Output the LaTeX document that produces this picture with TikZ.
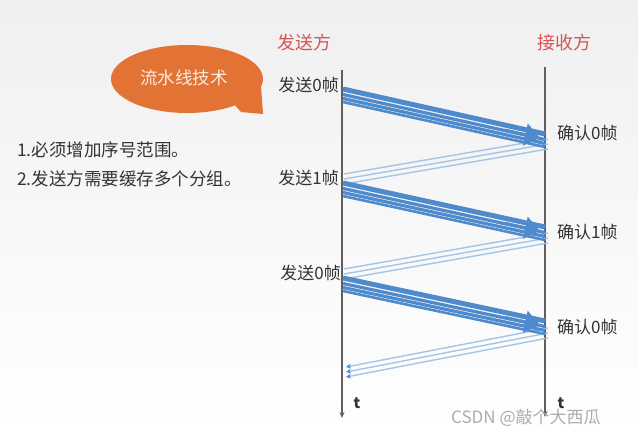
\documentclass[tikz,border=0pt]{standalone}
\usepackage{fontspec}
\setmainfont{Noto Sans CJK SC}
\usetikzlibrary{arrows.meta,calc}
\definecolor{fwdblue}{RGB}{78,138,204}
\definecolor{ackblue}{RGB}{165,196,230}
\definecolor{titlered}{RGB}{214,84,84}
\definecolor{bubble}{RGB}{226,115,52}
\definecolor{bubbletext}{RGB}{252,234,218}
\definecolor{axisgray}{RGB}{95,95,95}
\begin{document}
\begin{tikzpicture}[x=1pt,y=-1pt,
  lbl/.style={font=\fontsize{17}{19}\selectfont, text=black!80, inner sep=0pt},
  lst/.style={font=\fontsize{17.5}{19}\selectfont, text=black!80, inner sep=0pt, anchor=west},
  ttl/.style={font=\fontsize{18}{19}\selectfont, text=titlered, inner sep=0pt},
  axis/.style={draw=axisgray, line width=1.1pt, -{Stealth[length=6pt,width=5pt]}},
  fwd/.style={draw=fwdblue, line width=3.2pt},
  fwdhead/.style={draw=fwdblue, line width=3pt, -{Triangle[length=15pt,width=22pt]}},
  ack/.style={draw=ackblue, line width=1.4pt},
  ackend/.style={draw=ackblue, line width=1.4pt, -{Stealth[length=5pt,width=5pt,color=fwdblue]}},
]
% background
\useasboundingbox (0,0) rectangle (638,437);
\shade[top color=gray!12, bottom color=white] (0,0) rectangle (638,437);

% bubble
\fill[bubble] (187,79) ellipse [x radius=76pt, y radius=34pt];
\fill[bubble] (234,104) -- (261,86) -- (263,114) -- (241,112) -- cycle;
\node[font=\fontsize{17.5}{19}\selectfont, text=bubbletext, inner sep=0pt] (bub) at (184,78) {流水线技术};

% list
\node[lst] (l1) at (17,150) {1.必须增加序号范围。};
\node[lst] (l2) at (17,179) {2.发送方需要缓存多个分组。};

% titles
\node[ttl] (sname) at (304,43) {发送方};
\node[ttl] (rname) at (564,43) {接收方};

% time axes
\coordinate (stop) at (342,70);
\coordinate (sbot) at (342,418);
\coordinate (rtop) at (545,67);
\coordinate (rbot) at (545,417);
\draw[axis] (stop) -- (sbot);
\draw[axis] (rtop) -- (rbot);
\node[lbl, font=\fontsize{15}{16}\selectfont\bfseries] (t1) at (357,403) {t};
\node[lbl, font=\fontsize{15}{16}\selectfont\bfseries] (t2) at (561,403) {t};

% event labels
\node[lbl, anchor=east] (f0) at (339,85) {发送0帧};
\node[lbl, anchor=east] (f1) at (339,178) {发送1帧};
\node[lbl, anchor=east] (f2) at (341,273) {发送0帧};
\node[lbl, anchor=west] (c0) at (557,133) {确认0帧};
\node[lbl, anchor=west] (c1) at (557,232) {确认1帧};
\node[lbl, anchor=west] (c2) at (557,327) {确认0帧};

% frame / ack end points
\coordinate (s1) at (343,94);  \coordinate (r1) at (545,139);
\coordinate (a1) at (548,144); \coordinate (b1) at (344,179);
\coordinate (s2) at (343,188); \coordinate (r2) at (545,232);
\coordinate (a2) at (548,238); \coordinate (b2) at (344,274);
\coordinate (s3) at (343,283); \coordinate (r3) at (545,326);
\coordinate (a3) at (548,333); \coordinate (b3) at (346,372);

% acks (thin)
\foreach \a/\b in {a1/b1, a2/b2} {
  \foreach \d in {-5,0,5}
    \draw[ack] ($(\a)+(0,\d)$) -- ($(\b)+(0,\d)$);
}
\foreach \d in {-5,0,5}
  \draw[ackend] ($(a3)+(0,\d)$) -- ($(b3)+(0,\d)$);

% frames (thick bundles)
\foreach \s/\r in {s1/r1, s2/r2, s3/r3} {
  \draw[fwd, line width=5pt] ($(\s)+(0,-5)$) -- ($(\r)+(0,-5)$);
  \foreach \d in {0.5,4.5}
    \draw[fwd] ($(\s)+(0,\d)$) -- ($(\r)+(0,\d)$);
  \draw[fwd, line width=2.6pt] ($(\s)+(0,8)$) -- ($(\r)+(0,8)$);
  \draw[fwdhead] ($(\s)!0.8!(\r)$) -- ($(\s)!0.975!(\r)$);
}

% watermark
\node[anchor=west, text=gray!65, font=\fontsize{17}{18}\selectfont, inner sep=0pt] (wm) at (451,418) {CSDN @敲个大西瓜};
\end{tikzpicture}
\end{document}
